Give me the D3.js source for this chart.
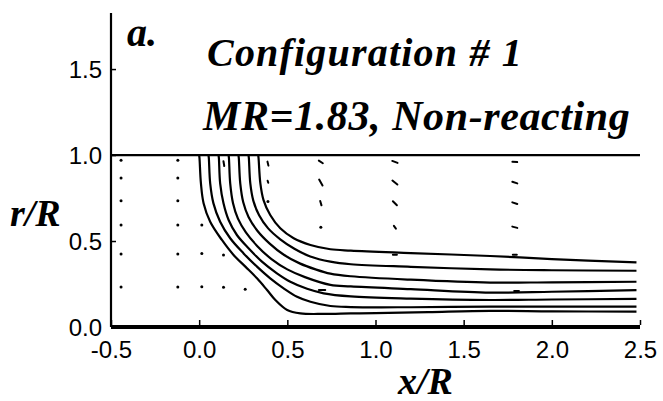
<!DOCTYPE html>
<html><head><meta charset="utf-8">
<script src="https://cdn.jsdelivr.net/npm/d3@7"></script>
</head><body style="margin:0">
<script>
// ---- data ----
const xTicks = [-0.5, 0.0, 0.5, 1.0, 1.5, 2.0, 2.5];
const yTicks = [0.0, 0.5, 1.0, 1.5];
const xLabel = "x/R", yLabel = "r/R";
const panelTag = "a.";
const title1 = "Configuration # 1";
const title2 = "MR=1.83, Non-reacting";

// stream-function contours (x/R, r/R)
const c1 = [[0.0,1.0],[0.002,0.98],[0.01,0.835],[0.025,0.72],[0.0625,0.612],[0.129,0.506],[0.195,0.419],[0.262,0.351],[0.328,0.283],[0.385,0.215],[0.432,0.157],[0.499,0.099],[0.574,0.079],[0.706,0.076],[0.86,0.079],[1.0,0.081],[1.3,0.087],[1.65,0.094],[2.0,0.091],[2.48,0.089]];
const c2 = [[0.053,1.0],[0.055,0.98],[0.0625,0.835],[0.081,0.719],[0.119,0.612],[0.176,0.516],[0.252,0.428],[0.328,0.351],[0.403,0.283],[0.479,0.225],[0.555,0.176],[0.631,0.147],[0.744,0.122],[0.86,0.116],[1.2,0.115],[1.65,0.118],[2.0,0.118],[2.48,0.118]];
const c3 = [[0.11,1.0],[0.112,0.98],[0.119,0.835],[0.138,0.719],[0.167,0.622],[0.214,0.535],[0.28,0.458],[0.356,0.38],[0.441,0.312],[0.517,0.263],[0.612,0.222],[0.706,0.196],[0.86,0.178],[1.2,0.165],[1.65,0.157],[2.0,0.16],[2.48,0.163]];
const c4 = [[0.167,1.0],[0.169,0.98],[0.176,0.835],[0.192,0.72],[0.22,0.63],[0.265,0.55],[0.33,0.47],[0.41,0.395],[0.5,0.335],[0.6,0.29],[0.744,0.245],[0.86,0.236],[1.2,0.22],[1.65,0.2],[2.0,0.205],[2.48,0.215]];
const c5 = [[0.223,1.0],[0.225,0.98],[0.233,0.835],[0.25,0.725],[0.28,0.64],[0.33,0.56],[0.4,0.485],[0.48,0.42],[0.57,0.37],[0.66,0.335],[0.744,0.31],[0.86,0.295],[1.2,0.275],[1.65,0.258],[2.0,0.26],[2.48,0.263]];
const c6 = [[0.28,1.0],[0.282,0.98],[0.29,0.835],[0.307,0.735],[0.34,0.65],[0.39,0.575],[0.46,0.51],[0.54,0.455],[0.63,0.41],[0.744,0.38],[0.86,0.365],[1.2,0.35],[1.65,0.335],[2.0,0.33],[2.48,0.327]];
const c7 = [[0.335,1.0],[0.337,0.98],[0.347,0.835],[0.365,0.738],[0.403,0.651],[0.46,0.574],[0.536,0.516],[0.631,0.477],[0.744,0.452],[0.86,0.444],[1.2,0.43],[1.65,0.413],[2.0,0.395],[2.48,0.376]];
const contours = [c1, c2, c3, c4, c5, c6, c7];

// velocity vectors: position (x/R, r/R) and components (u, v)
const vecX = [-0.443,-0.443,-0.443,-0.443,-0.443,-0.443,
              -0.121,-0.121,-0.121,-0.121,-0.121,-0.121,
              0.015,0.015,0.015, 0.138,0.138, 0.261,
              0.14, 0.39,0.39,0.39,
              0.69,0.69,0.69,0.69, 0.697,
              1.11,1.11,1.11,1.11, 1.11,
              1.79,1.79,1.79,1.79, 1.79,1.8];
const vecR = [0.97,0.866,0.734,0.593,0.424,0.233,
              0.97,0.866,0.734,0.593,0.424,0.233,
              0.593,0.428,0.234, 0.419,0.231, 0.219,
              0.95, 0.95,0.845,0.73,
              0.96,0.84,0.72,0.58, 0.215,
              0.96,0.84,0.72,0.58, 0.42,
              0.96,0.84,0.72,0.58, 0.42,0.21];
const vecU = [0,0,0,0,0,0, 0,0,0,0,0,0, 0,0,0, 0,0, 0,
              0.1, 0.12,0.08,0,
              0.5,0.42,0.16,0, 0.8,
              0.66,0.62,0.5,0.25, 0.5,
              0.6,0.62,0.62,0.62, 0.5,0.6];
const vecV = [0,0,0,0,0,0, 0,0,0,0,0,0, 0,0,0, 0,0, 0,
              -0.6, -0.5,-0.25,0,
              -0.34,-0.75,-0.54,0, 0,
              -0.25,-0.5,-0.5,-0.34, 0,
              -0.04,-0.21,-0.21,-0.16, 0,0];

// ---- layout ----
const W = 663, H = 401;
const svg = d3.select("body").append("svg").attr("width", W).attr("height", H).style("display", "block");
const x = d3.scaleLinear().domain([-0.5, 2.5]).range([111, 640]);
const y = d3.scaleLinear().domain([0, 1.826]).range([327, 13]);
const vs = d3.scaleLinear().domain([0, 1]).range([0, 8]);
const SERIF = '"Liberation Serif", "Times New Roman", Tinos, serif';

// texts
const texts = svg.append("g").attr("class", "labels");
function tt(str, px, py, size) {
  return texts.append("text").attr("x", px).attr("y", py)
    .style("font-family", SERIF)
    .style("font-weight", "bold").style("font-style", "italic")
    .style("font-size", size + "px").style("fill", "#000").text(str);
}
tt(panelTag, 127, 46, 40);
tt(title1, 207, 66, 40).style("letter-spacing", "1.2px");
tt(title2, 203, 130, 42).style("letter-spacing", "0.6px");
tt(yLabel, 10, 226, 38);
tt(xLabel, 398, 394, 38);

// vectors
const vecs = vecX.map((d, i) => ({x: d, r: vecR[i], u: vecU[i], v: vecV[i]}));
const gv = svg.append("g");
gv.selectAll("circle").data(vecs.filter(d => d.u === 0 && d.v === 0)).join("circle")
  .attr("cx", d => x(d.x)).attr("cy", d => y(d.r)).attr("r", 1.5).attr("fill", "#000");
gv.selectAll("line").data(vecs.filter(d => !(d.u === 0 && d.v === 0))).join("line")
  .attr("x1", d => x(d.x) - vs(d.u) / 2).attr("y1", d => y(d.r) + vs(d.v) / 2)
  .attr("x2", d => x(d.x) + vs(d.u) / 2).attr("y2", d => y(d.r) - vs(d.v) / 2)
  .attr("stroke", "#000").attr("stroke-width", 2).attr("stroke-linecap", "round");

// contours
const line = d3.line().x(d => x(d[0])).y(d => y(d[1])).curve(d3.curveCatmullRom.alpha(0.5));
svg.append("g").selectAll("path").data(contours).join("path")
  .attr("d", line).attr("fill", "none").attr("stroke", "#000").attr("stroke-width", 2.2);

// wall line at r/R = 1
svg.append("line").attr("x1", x(-0.5)).attr("x2", x(2.5)).attr("y1", y(1)).attr("y2", y(1))
  .attr("stroke", "#000").attr("stroke-width", 2.2);

// axes
const xAxis = d3.axisBottom(x).tickValues(xTicks).tickSize(-5).tickPadding(14).tickFormat(d3.format(".1f"));
const gx = svg.append("g").attr("transform", `translate(0,${y(0)})`).call(xAxis);
gx.select(".domain").attr("stroke-width", 4).attr("d", `M${x(-0.5)},0H${x(2.5)}`);
gx.selectAll(".tick line").attr("stroke-width", 1.5).attr("transform", "translate(0,-2)");
gx.selectAll(".tick text").style("font-family", '"Liberation Sans"').style("font-size", "24px")
  .attr("fill", "#000").attr("dy", "0.72em").text(d => d3.format(".1f")(d).replace("−", "-"));

const yAxis = d3.axisLeft(y).tickValues(yTicks).tickSize(-5).tickPadding(9).tickFormat(d3.format(".1f"));
const gy = svg.append("g").attr("transform", `translate(${x(-0.5)},0)`).call(yAxis);
gy.select(".domain").attr("stroke-width", 2.2).attr("d", `M0,${y(1.826)}V${y(0)}`);
gy.selectAll(".tick line").attr("stroke-width", 1.5);
gy.selectAll(".tick text").style("font-family", '"Liberation Sans"').style("font-size", "24px")
  .attr("fill", "#000").attr("dy", "0.36em");
</script>
</body></html>
